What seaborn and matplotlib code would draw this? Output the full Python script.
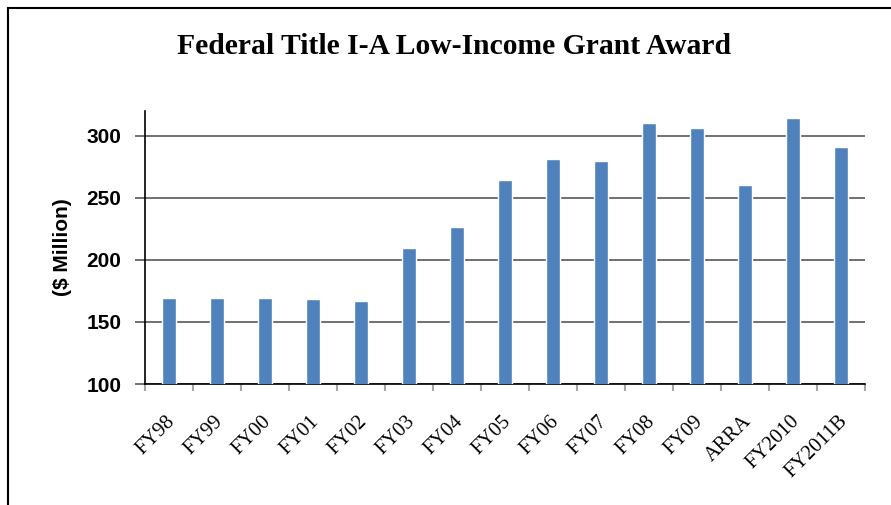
import matplotlib
matplotlib.use('Agg')
import matplotlib.pyplot as plt
import matplotlib.transforms as mtransforms
import pandas as pd
import seaborn as sns
from matplotlib.patches import Rectangle

# Values ($ Million)
years = ['FY98', 'FY99', 'FY00', 'FY01', 'FY02', 'FY03', 'FY04', 'FY05',
         'FY06', 'FY07', 'FY08', 'FY09', 'ARRA', 'FY2010', 'FY2011B']
awards = [169, 169, 169, 168.6, 167, 209.2, 226.5, 264.2,
          281.4, 280, 310.2, 306.2, 260.7, 314, 291.1]
y_ticks = [100, 150, 200, 250, 300]

df = pd.DataFrame({'year': years, 'award': awards})

sns.set_style('white')
plt.rcParams['text.color'] = 'black'
plt.rcParams['axes.labelcolor'] = 'black'
plt.rcParams['xtick.labelcolor'] = 'black'
plt.rcParams['ytick.labelcolor'] = 'black'

fig = plt.figure(figsize=(8.91, 5.05), dpi=100)
ax = fig.add_axes([145 / 891, 1 - 384 / 505, 720 / 891, 273 / 505])

sns.barplot(data=df, x='year', y='award', color='#4F81BD', saturation=1,
            width=0.3, ax=ax, zorder=3)

ax.set_ylim(100, 320)
ax.set_xlim(-0.5, len(years) - 0.5)
ax.set_yticks(y_ticks)
ax.set_yticklabels([str(t) for t in y_ticks], fontsize=15, fontweight='bold',
                   family='Liberation Sans')
ax.yaxis.grid(True, color='#595959', linewidth=1.2, zorder=0)
ax.set_axisbelow(True)

# category boundary ticks on x
ax.set_xticks([i - 0.5 for i in range(len(years) + 1)], minor=True)
ax.tick_params(axis='x', which='minor', length=5, color='#a6a6a6', width=1.5,
               direction='out', bottom=True)
ax.tick_params(axis='x', which='major', length=0, pad=20)
ax.tick_params(axis='y', length=7, color='#595959', width=1.2, left=True,
               direction='out', pad=10)
ax.set_xticks(range(len(years)))
ax.set_xticklabels(years, rotation=45, ha='right', rotation_mode='anchor',
                   fontsize=14.8, family='Liberation Serif')
shift = mtransforms.ScaledTranslation(-3 / 100, 0, fig.dpi_scale_trans)
for lbl in ax.get_xticklabels():
    lbl.set_transform(lbl.get_transform() + shift)

for side in ['top', 'right']:
    ax.spines[side].set_visible(False)
for side in ['left', 'bottom']:
    ax.spines[side].set_color('black')
    ax.spines[side].set_linewidth(1.2)

ax.set_xlabel('')
ax.set_ylabel('($ Million)', fontsize=15, fontweight='bold',
              family='Liberation Sans', labelpad=10)

fig.suptitle('Federal Title I-A Low-Income Grant Award', x=0.51, y=0.935,
             fontsize=21.3, fontweight='bold', family='Liberation Serif')

# outer chart frame
fig.patches.append(Rectangle((8 / 891, -0.1), 1.0, 1.1 - 8 / 505, fill=False,
                             edgecolor='black', linewidth=1.5,
                             transform=fig.transFigure, figure=fig))

fig.savefig('out.png', dpi=100)
